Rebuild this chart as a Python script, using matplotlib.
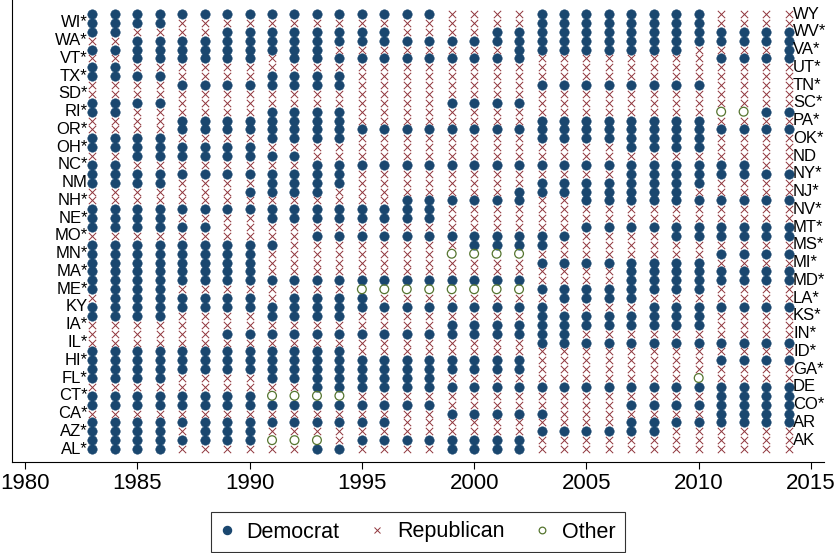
import matplotlib
matplotlib.use("Agg")
import matplotlib.pyplot as plt
from matplotlib.lines import Line2D

plt.rcParams['font.family'] = ['Liberation Sans', 'DejaVu Sans']

# Calendar years shown on the horizontal axis
years = list(range(1983, 2015))

# States in alphabetical order of full name, bottom row first
state_labels = [
    "AL*", "AK", "AZ*", "AR", "CA*", "CO*", "CT*", "DE", "FL*", "GA*",
    "HI*", "ID*", "IL*", "IN*", "IA*", "KS*", "KY", "LA*", "ME*", "MD*",
    "MA*", "MI*", "MN*", "MS*", "MO*", "MT*", "NE*", "NV*", "NH*", "NJ*",
    "NM", "NY*", "NC*", "ND", "OH*", "OK*", "OR*", "PA*", "RI*", "SC*",
    "SD*", "TN*", "TX*", "UT*", "VT*", "VA*", "WA*", "WV*", "WI*", "WY",
]

# Governor's party per year (D/R/O), in blocks of eight years:
# 1983-1990 | 1991-1998 | 1999-2006 | 2007-2014
governor_party = [
    "DDDDRRRR RRDDRRRR DDDDRRRR RRRRRRRR",  # AL
    "DDDDDDDD OOORDDDD DDDDRRRR RRRRRRRR",  # AK
    "DDDDRDDD RRRRRRRR RRRRDDDD DDRRRRRR",  # AZ
    "DDDDDDDD DDDDDDRR RRRRRRRR DDDDDDDD",  # AR
    "RRRRRRRR RRRRRRRR DDDDDRRR RRRRDDDD",  # CA
    "DDDDDDDD DDDDDDDD RRRRRRRR DDDDDDDD",  # CO
    "DDDDDDDD OOOORRRR RRRRRRRR RRRRDDDD",  # CT
    "RRRRRRRR RRDDDDDD DDDDDDDD DDDDDDDD",  # DE
    "DDDDRRRR DDDDDDDD RRRRRRRR RRRORRRR",  # FL
    "DDDDDDDD DDDDDDDD DDDDRRRR RRRRRRRR",  # GA
    "DDDDDDDD DDDDDDDD DDDDRRRR RRRRDDDD",  # HI
    "DDDDDDDD DDDDRRRR RRRRRRRR RRRRRRRR",  # ID
    "RRRRRRRR RRRRRRRR RRRRDDDD DDDDDDDD",  # IL
    "RRRRRRDD DDDDDDDD DDDDDDRR RRRRRRRR",  # IN
    "RRRRRRRR RRRRRRRR DDDDDDDD DDDDRRRR",  # IA
    "DDDDRRRR DDDDRRRR RRRRDDDD DDDDRRRR",  # KS
    "DDDDDDDD DDDDDDDD DDDDDRRR RDDDDDDD",  # KY
    "RDDDDDDD RDDDDRRR RRRRRDDD DRRRRRRR",  # LA
    "DDDDRRRR RRRROOOO OOOODDDD DDDDRRRR",  # ME
    "DDDDDDDD DDDDDDDD DDDDRRRR DDDDDDDD",  # MD
    "DDDDDDDD RRRRRRRR RRRRRRRR DDDDDDDD",  # MA
    "DDDDDDDD RRRRRRRR RRRRDDDD DDDDRRRR",  # MI
    "DDDDDDDD RRRRRRRR OOOORRRR RRRRDDDD",  # MN
    "DDDDDDDD DRRRRRRR RDDDDRRR RRRRRRRR",  # MS
    "RRRRRRRR RRDDDDDD DDDDDDRR RRDDDDDD",  # MO
    "DDDDDDRR RRRRRRRR RRRRRRDD DDDDDDDD",  # MT
    "DDDDRRRR DDDDDDDD RRRRRRRR RRRRRRRR",  # NE
    "DDDDDDDD DDDDDDDD RRRRRRRR RRRRRRRR",  # NV
    "RRRRRRRR RRRRRRDD DDDDRRDD DDDDDDDD",  # NH
    "RRRRRRRD DDDRRRRR RRRDDDDD DDDRRRRR",  # NJ
    "DDDDRRRR DDDDRRRR RRRRDDDD DDDDRRRR",  # NM
    "DDDDDDDD DDDDRRRR RRRRRRRR DDDDDDDD",  # NY
    "DDRRRRRR RRDDDDDD DDDDDDDD DDDDDDRR",  # NC
    "RRDDDDDD DDRRRRRR RRRRRRRR RRRRRRRR",  # ND
    "DDDDDDDD RRRRRRRR RRRRRRRR DDDDRRRR",  # OH
    "DDDDRRRR DDDDRRRR RRRRDDDD DDDDRRRR",  # OK
    "RRRRDDDD DDDDDDDD DDDDDDDD DDDDDDDD",  # OR
    "RRRRDDDD DDDDRRRR RRRRDDDD DDDDRRRR",  # PA
    "DDRRRRRR DDDDRRRR RRRRRRRR RRRROODD",  # RI
    "DDDDRRRR RRRRRRRR DDDDRRRR RRRRRRRR",  # SC
    "RRRRRRRR RRRRRRRR RRRRRRRR RRRRRRRR",  # SD
    "RRRRDDDD DDDDRRRR RRRRDDDD DDDDRRRR",  # TN
    "DDDDRRRR DDDDRRRR RRRRRRRR RRRRRRRR",  # TX
    "DDRRRRRR RRRRRRRR RRRRRRRR RRRRRRRR",  # UT
    "RRDDDDDD RDDDDDDD DDDDRRRR RRRRDDDD",  # VT
    "DDDDDDDD DDDRRRRR RRRDDDDD DDDRRRRD",  # VA
    "RRDDDDDD DDDDDDDD DDDDDDDD DDDDDDDD",  # WA
    "DDRRRRDD DDDDDDRR RRDDDDDD DDDDDDDD",  # WV
    "DDDDRRRR RRRRRRRR RRRRDDDD DDDDRRRR",  # WI
    "DDDDDDDD DDDDDDDD RRRRDDDD DDDDRRRR",  # WY
]

party_order = ["D", "R", "O"]
party_names = ["Democrat", "Republican", "Other"]
xtick_years = [1980, 1985, 1990, 1995, 2000, 2005, 2010, 2015]

navy = "#1a476f"
maroon = "#90353b"
green = "#55752f"

marker_styles = {
    "D": dict(marker="o", s=46, facecolors=navy, edgecolors=navy, linewidths=0.4),
    "R": dict(marker="x", s=28, c=maroon, linewidths=0.7),
    "O": dict(marker="o", s=40, facecolors="none", edgecolors=green, linewidths=0.9),
}

fig = plt.figure(figsize=(8.36, 5.53), dpi=100)
ax = fig.add_axes([12 / 836, 91 / 553, 812 / 836, 462 / 553])

codes = [s.replace(" ", "") for s in governor_party]
for party in party_order:
    xs, ys = [], []
    for row, code in enumerate(codes, start=1):
        for yr, c in zip(years, code):
            if c == party:
                xs.append(yr)
                ys.append(row)
    ax.scatter(xs, ys, zorder=3, clip_on=False, **marker_styles[party])

# State abbreviations alternate between the left and right ends of the rows
for row, lab in enumerate(state_labels, start=1):
    if row % 2 == 1:
        ax.annotate(lab, xy=(years[0], row), xytext=(-3.3, 0),
                    textcoords="offset points", ha="right", va="center",
                    fontsize=12, annotation_clip=False)
    else:
        ax.annotate(lab, xy=(years[-1], row), xytext=(3.3, 0),
                    textcoords="offset points", ha="left", va="center",
                    fontsize=12, annotation_clip=False)

ax.set_xlim(1979.42, 2015.58)
ax.set_ylim(-0.46, 51.58)
ax.set_xticks(xtick_years)
ax.set_xticklabels([str(y) for y in xtick_years], fontsize=16)
ax.set_yticks([])
for side in ("top", "right"):
    ax.spines[side].set_visible(False)
for side in ("left", "bottom"):
    ax.spines[side].set_linewidth(0.8)
    ax.spines[side].set_color("black")
ax.tick_params(axis="x", direction="out", length=5, width=0.8, pad=3, colors="black")

handles = [
    Line2D([], [], ls="none", marker="o", ms=5.8, mfc=navy, mec=navy),
    Line2D([], [], ls="none", marker="x", ms=3.8, mec=maroon, mew=0.7),
    Line2D([], [], ls="none", marker="o", ms=4.8, mfc="none", mec=green, mew=0.9),
]
leg = fig.legend(handles, party_names, loc="center",
                 bbox_to_anchor=(418 / 836, 21 / 553), ncol=3, frameon=True,
                 fancybox=False, edgecolor="black", fontsize=15.5,
                 handlelength=0.6, handletextpad=0.63, columnspacing=1.44,
                 borderpad=0.45)
leg.get_frame().set_linewidth(0.8)

fig.savefig("out.png", dpi=100)
